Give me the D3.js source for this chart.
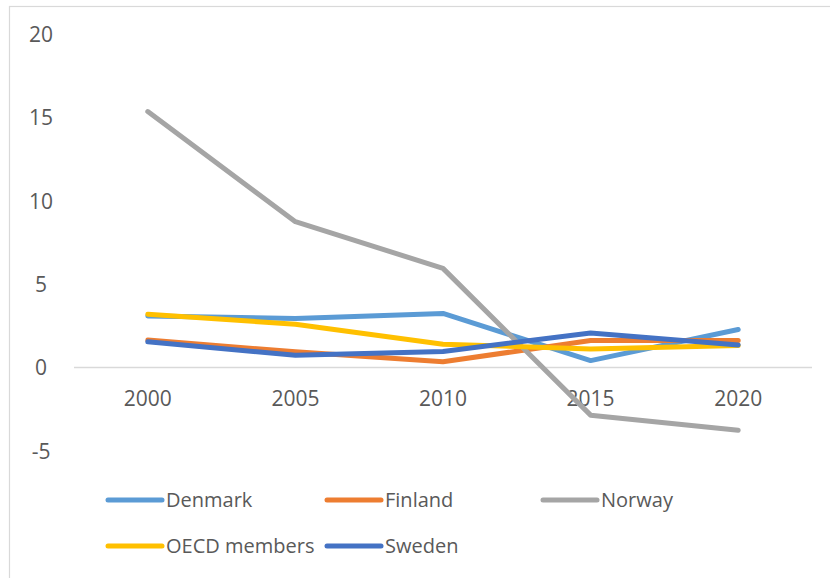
<!DOCTYPE html>
<html><head><meta charset="utf-8">
<script src="https://cdn.jsdelivr.net/npm/d3@7/dist/d3.min.js"></script>
<style>
html,body{margin:0;padding:0;background:#fff;}
svg{display:block;}
text{font-family:"Open Sans","Noto Sans",sans-serif;fill:#595959;}
</style></head>
<body>
<svg id="chart" width="830" height="578"></svg>
<script>
const years = ["2000","2005","2010","2015","2020"];
const seriesNames = ["Denmark","Finland","Norway","OECD members","Sweden"];
const seriesColors = ["#5B9BD5","#ED7D31","#A5A5A5","#FFC000","#4472C4"];
const denmark = [3.1, 2.95, 3.25, 0.42, 2.28];
const finland = [1.65, 0.95, 0.35, 1.62, 1.62];
const norway = [15.35, 8.75, 5.95, -2.85, -3.75];
const oecd = [3.2, 2.6, 1.4, 1.12, 1.32];
const sweden = [1.55, 0.74, 0.97, 2.08, 1.36];
const yTicks = [-5, 0, 5, 10, 15, 20];

const allValues = [denmark, finland, norway, oecd, sweden];
const svg = d3.select("#chart");

// frame
svg.append("rect").attr("x",9.5).attr("y",6.5).attr("width",840).attr("height",600)
  .attr("fill","none").attr("stroke","#D9D9D9").attr("stroke-width",1.2);

const x = d3.scaleBand().domain(years).range([74, 812]);
const y = d3.scaleLinear().domain([-5, 20]).range([451, 34]);

// zero line
svg.append("line").attr("x1",74).attr("x2",812).attr("y1",y(0)).attr("y2",y(0))
  .attr("stroke","#D9D9D9").attr("stroke-width",1.5);

// y labels
const yAxis = d3.axisLeft(y).tickValues(yTicks).tickSize(0).tickFormat(d => String(d));
const yg = svg.append("g").attr("transform","translate(41,0)").call(yAxis);
yg.select(".domain").remove();
yg.selectAll("text").attr("text-anchor","middle").attr("x",0).attr("dy","0.35em")
  .style("font-size","21px").style("fill","#595959").style("font-family",'"Open Sans","Noto Sans",sans-serif');

// x labels
const xAxis = d3.axisBottom(x).tickSize(0);
const xg = svg.append("g").attr("transform",`translate(0,${y(0)})`).call(xAxis);
xg.select(".domain").remove();
xg.selectAll("text").attr("y",31).attr("dy","0.35em")
  .style("font-size","21px").style("fill","#595959").style("font-family",'"Open Sans","Noto Sans",sans-serif');

const line = d3.line().x((d,i)=>x(years[i]) + x.bandwidth()/2).y(d=>y(d));

allValues.forEach((vals, k) => {
  svg.append("path").datum(vals).attr("d", line)
    .attr("fill","none").attr("stroke", seriesColors[k]).attr("stroke-width",5)
    .attr("stroke-linecap","round").attr("stroke-linejoin","round");
});

// legend
const legendPos = [[108,500],[327,500],[543,500],[108,546],[327,546]];
seriesNames.forEach((name,k)=>{
  const [lx,ly] = legendPos[k];
  svg.append("line").attr("x1",lx).attr("x2",lx+54).attr("y1",ly).attr("y2",ly)
    .attr("stroke",seriesColors[k]).attr("stroke-width",5).attr("stroke-linecap","round");
  svg.append("text").attr("x",lx+58).attr("y",ly).attr("dy","0.35em")
    .style("font-size","20px").text(name);
});
</script>
</body></html>
